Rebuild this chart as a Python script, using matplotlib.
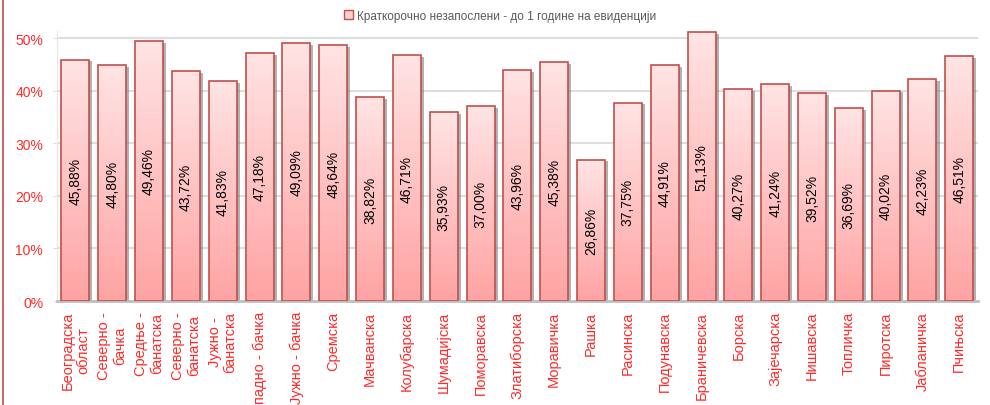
import matplotlib
matplotlib.use("Agg")
import matplotlib.pyplot as plt
import matplotlib.patheffects as pe
from matplotlib.lines import Line2D
from matplotlib.patches import Patch
from matplotlib.colors import LinearSegmentedColormap
from matplotlib.ticker import FuncFormatter
import numpy as np

FONT = ["Liberation Sans Narrow", "Liberation Sans", "DejaVu Sans"]
plt.rcParams["font.family"] = FONT

# data
regions = ["Београдска\nобласт", "Северно -\nбачка", "Средње -\nбанатска",
           "Северно -\nбанатска", "Јужно -\nбанатска", "Западно - бачка",
           "Јужно - бачка", "Сремска", "Мачванска", "Колубарска", "Шумадијска",
           "Поморавска", "Златиборска", "Моравичка", "Рашка", "Расинска",
           "Подунавска", "Браничевска", "Борска", "Зајечарска", "Нишавска",
           "Топличка", "Пиротска", "Јабланичка", "Пчињска"]
share = [45.88, 44.80, 49.46, 43.72, 41.83, 47.18, 49.09, 48.64, 38.82, 46.71,
         35.93, 37.00, 43.96, 45.38, 26.86, 37.75, 44.91, 51.13, 40.27, 41.24,
         39.52, 36.69, 40.02, 42.23, 46.51]
y_ticks = [0, 10, 20, 30, 40, 50]
series_name = "Краткорочно незапослени - до 1 године на евиденцији"

C_RED = "#ff2a2a"
C_EDGE = "#c0504d"
C_GRID = "#dedede"
grad = LinearSegmentedColormap.from_list("pinkgrad", ["#ffa3a3", "#ffe4e4"])

fig = plt.figure(figsize=(9.9, 4.06), dpi=100)
ax = fig.add_axes([0.0576, 0.256, 0.930, 0.665])

x = np.arange(len(regions))
bars = ax.bar(x, share, width=0.76, facecolor="#ffc8c8", edgecolor="none", zorder=2,
              path_effects=[pe.SimplePatchShadow(offset=(2.2, -1.2), shadow_rgbFace="#7f7f7f", alpha=0.6),
                            pe.Normal()])
gradient = np.linspace(0, 1, 256).reshape(-1, 1)
for b in bars:
    x0, w, h = b.get_x(), b.get_width(), b.get_height()
    im = ax.imshow(gradient, cmap=grad, origin="lower", aspect="auto",
                   extent=(x0, x0 + w, 0, h), zorder=3)
    im.set_clip_path(b)
ax.bar(x, share, width=0.76, fill=False, edgecolor=C_EDGE, linewidth=1.2, zorder=4)

for xi, v in zip(x, share):
    ax.text(xi, v / 2, f"{v:.2f}%".replace(".", ","), rotation=90, ha="center", va="center",
            fontsize=10, color="black", zorder=5)

ax.set_xlim(-0.5, len(regions) - 0.5)
ax.set_ylim(0, 51.33)
ax.set_yticks(y_ticks)
ax.yaxis.set_major_formatter(FuncFormatter(lambda v, _: f"{v:.0f}%"))
ax.grid(axis="y", color=C_GRID, lw=1.5, zorder=0)
ax.set_axisbelow(True)
ax.tick_params(axis="y", colors=C_GRID, labelcolor=C_RED, labelsize=10, length=3, pad=7)
ax.set_xticks(x)
ax.set_xticklabels(regions, rotation=90, ha="center", va="top", multialignment="center",
                   color=C_RED, fontsize=10.5, linespacing=1.15)
ax.tick_params(axis="x", length=0, pad=7)
for s in ["top", "right"]:
    ax.spines[s].set_visible(False)
ax.spines["left"].set_color("#e6e6e6")
ax.spines["bottom"].set_color("#bfbfbf")
ax.spines["bottom"].set_linewidth(2)

fig.legend(handles=[Patch(facecolor="#ffd0d0", edgecolor=C_EDGE, label=series_name)],
           loc="upper center", bbox_to_anchor=(0.505, 1.0), frameon=False,
           fontsize=8.5, labelcolor="#595959", handlelength=0.8, handleheight=0.8,
           handletextpad=0.3)

fig.add_artist(Line2D([0.003, 0.003], [0, 1], transform=fig.transFigure, color=C_EDGE, lw=1.2))

fig.savefig("out.png", dpi=100, facecolor="white")
